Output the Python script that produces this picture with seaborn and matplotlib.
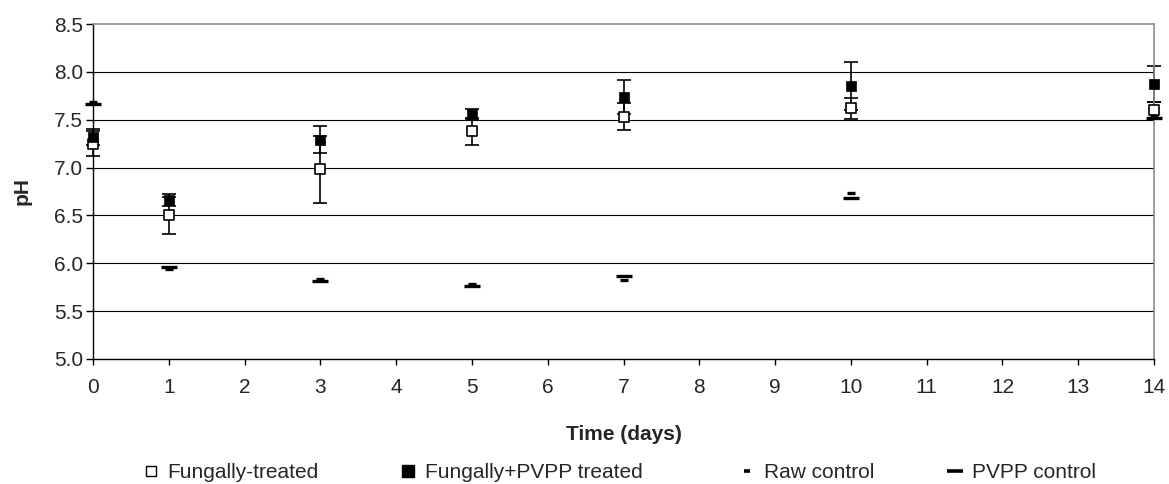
import matplotlib
matplotlib.use("Agg")
import matplotlib.pyplot as plt
import seaborn as sns
from matplotlib.lines import Line2D

sns.set_style("white")
plt.rcParams['font.family'] = ['Liberation Sans', 'DejaVu Sans']

days = [0, 1, 3, 5, 7, 10, 14]
fungal = [7.25, 6.50, 6.98, 7.38, 7.53, 7.62, 7.60]
fungal_err = [0.13, 0.19, 0.35, 0.14, 0.14, 0.11, 0.09]
fungal_pvpp = [7.32, 6.66, 7.29, 7.56, 7.74, 7.85, 7.87]
fungal_pvpp_err = [0.08, 0.06, 0.14, 0.05, 0.18, 0.25, 0.19]
raw_control = [7.69, 5.94, 5.84, 5.78, 5.83, 6.73, 7.54]
pvpp_control = [7.66, 5.96, 5.81, 5.76, 5.87, 6.68, 7.52]

series_labels = ["Fungally-treated", "Fungally+PVPP treated", "Raw control", "PVPP control"]
y_ticks = [5.0, 5.5, 6.0, 6.5, 7.0, 7.5, 8.0, 8.5]
x_ticks = list(range(0, 15))

fig = plt.figure(figsize=(11.69, 4.84), dpi=100)
ax = fig.add_axes([0.0796, 0.2583, 0.9076, 0.6921])

# horizontal gridlines
for yv in y_ticks[1:-1]:
    ax.axhline(yv, color="black", lw=0.8, zorder=0)

# error bars
ax.errorbar(days, fungal, yerr=fungal_err, fmt="none", ecolor="black",
            elinewidth=1.2, capsize=4.8, capthick=1.2, zorder=2, clip_on=False)
ax.errorbar(days, fungal_pvpp, yerr=fungal_pvpp_err, fmt="none", ecolor="black",
            elinewidth=1.2, capsize=4.8, capthick=1.2, zorder=2, clip_on=False)

# markers
sns.scatterplot(x=days, y=fungal, marker="s", s=50, color="white",
                edgecolor="black", linewidth=1.2, ax=ax, zorder=3, clip_on=False)
sns.scatterplot(x=days, y=fungal_pvpp, marker="s", s=60, color="black",
                edgecolor="black", linewidth=0.5, ax=ax, zorder=4, clip_on=False)
sns.scatterplot(x=days, y=raw_control, marker="_", s=40, color="black",
                linewidth=2.4, ax=ax, zorder=3, clip_on=False)
sns.scatterplot(x=days, y=pvpp_control, marker="_", s=120, color="black",
                linewidth=2.4, ax=ax, zorder=3, clip_on=False)

ax.set_xlim(0, 14)
ax.set_ylim(5.0, 8.5)
ax.set_xticks(x_ticks)
ax.set_xticklabels([str(v) for v in x_ticks])
ax.set_yticks(y_ticks)
ax.set_yticklabels([f"{v:.1f}" for v in y_ticks])
ax.tick_params(axis="both", direction="out", width=1, color="black",
               labelsize=15, bottom=True, left=True)
ax.tick_params(axis="x", length=4, pad=10)
ax.tick_params(axis="y", length=5, pad=2)

for side in ["left", "bottom"]:
    ax.spines[side].set_color("black")
    ax.spines[side].set_linewidth(1.0)
for side in ["top", "right"]:
    ax.spines[side].set_color("#8c8c8c")
    ax.spines[side].set_linewidth(1.2)

ax.set_xlabel("Time (days)", fontsize=15, fontweight="bold", labelpad=20)
ax.set_ylabel("pH", fontsize=15, fontweight="bold", labelpad=16)

# legend entries placed along the bottom
handles = [
    Line2D([], [], marker="s", ls="none", markersize=7, markerfacecolor="white",
           markeredgecolor="black", markeredgewidth=1.0),
    Line2D([], [], marker="s", ls="none", markersize=8, markerfacecolor="black",
           markeredgecolor="black"),
    Line2D([], [], marker="_", ls="none", markersize=5, markeredgewidth=2.6, color="black"),
    Line2D([], [], marker="_", ls="none", markersize=12, markeredgewidth=2.6, color="black"),
]
x_starts = [0.122, 0.342, 0.632, 0.810]
for h, lab, xs in zip(handles, series_labels, x_starts):
    fig.legend([h], [lab], loc="center left", bbox_to_anchor=(xs, 0.024),
               frameon=False, fontsize=15, handlelength=0.8, handletextpad=0.4,
               borderpad=0, borderaxespad=0)

fig.savefig("out.png", dpi=100)
